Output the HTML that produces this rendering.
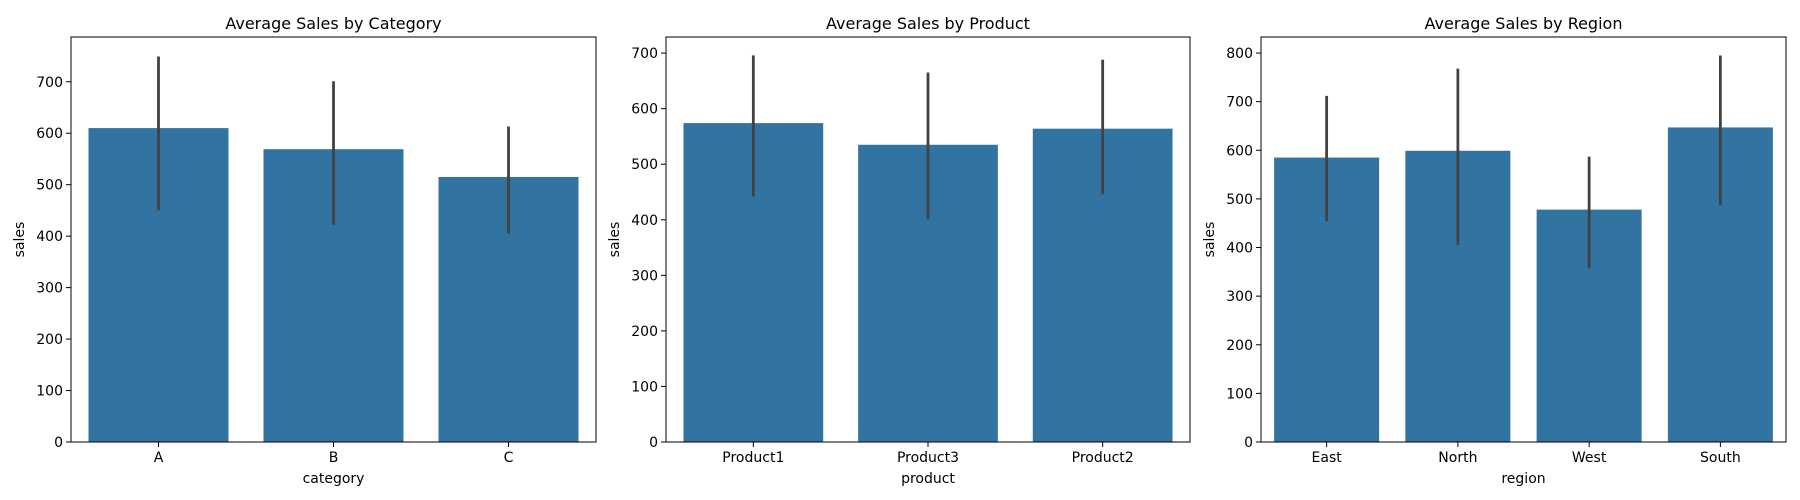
<!DOCTYPE html>
<html><head><meta charset="utf-8"><style>
html,body{margin:0;padding:0;background:#fff}
svg{display:block;font-family:"DejaVu Sans","Liberation Sans",sans-serif}
</style></head><body>
<svg id="fig" width="1800" height="500" viewBox="0 0 1800 500"></svg>
<script>
const catLabels=["A","B","C"];
const catMeans=[610,569,515];
const catLo=[450,422,405];
const catHi=[749,701,613];
const catTicks=[0,100,200,300,400,500,600,700];

const prodLabels=["Product1","Product3","Product2"];
const prodMeans=[574,535,564];
const prodLo=[442,401,446];
const prodHi=[696,665,688];
const prodTicks=[0,100,200,300,400,500,600,700];

const regLabels=["East","North","West","South"];
const regMeans=[585,599,478,647];
const regLo=[454,405,357,487];
const regHi=[712,768,587,795];
const regTicks=[0,100,200,300,400,500,600,700,800];

const NS="http://www.w3.org/2000/svg";
const svg=document.getElementById('fig');
function mk(tag,attrs,parent){const e=document.createElementNS(NS,tag);for(const k in attrs)e.setAttribute(k,attrs[k]);(parent||svg).appendChild(e);return e;}

function panel(key,x0,x1,ymax,title,xlab,labels,means,lo,hi,ticks){
  const top=37,bot=442;
  const g=mk('g',{});
  
  
  const yS=v=>bot-(v/ymax)*(bot-top);
  const band=(x1-x0)/labels.length;
  const xS=i=>x0+band*(i+0.5);
  labels.forEach((l,i)=>{
    const r=mk('rect',{x:xS(i)-band*0.4,y:yS(means[i]),width:band*0.8,height:bot-yS(means[i]),fill:'#3274a1'},g);
    
    
    const e=mk('line',{x1:xS(i),x2:xS(i),y1:yS(lo[i]),y2:yS(hi[i]),stroke:'#424242','stroke-width':2.8},g);
    
    
    mk('line',{x1:xS(i),x2:xS(i),y1:bot,y2:bot+5,stroke:'#000','stroke-width':1},g);
    const t=mk('text',{x:xS(i),y:462,'text-anchor':'middle','font-size':14,fill:'#000'},g);
    t.textContent=l;
    
    
  });
  ticks.forEach(v=>{
    mk('line',{x1:x0-5,x2:x0,y1:yS(v),y2:yS(v),stroke:'#000','stroke-width':1},g);
    const t=mk('text',{x:x0-8,y:yS(v)+5,'text-anchor':'end','font-size':14,fill:'#000'},g);
    t.textContent=v;
    
    
  });
  const fr=mk('rect',{x:x0,y:top,width:x1-x0,height:bot-top,fill:'none',stroke:'#000','stroke-width':1},g);
  
  
  const tt=mk('text',{x:(x0+x1)/2,y:29,'text-anchor':'middle','font-size':16,fill:'#000'},g);
  tt.textContent=title;
  
  
  const xl=mk('text',{x:(x0+x1)/2,y:483,'text-anchor':'middle','font-size':14,fill:'#000'},g);
  xl.textContent=xlab;
  
  
  const yl=mk('text',{x:0,y:0,'text-anchor':'middle','font-size':14,fill:'#000',transform:`translate(${x0-47},${(top+bot)/2}) rotate(-90)`},g);
  yl.textContent='sales';
  
  
}
panel('category',71,596,787,'Average Sales by Category','category',catLabels,catMeans,catLo,catHi,catTicks);
panel('product',666,1190,729,'Average Sales by Product','product',prodLabels,prodMeans,prodLo,prodHi,prodTicks);
panel('region',1261,1786,833,'Average Sales by Region','region',regLabels,regMeans,regLo,regHi,regTicks);
</script>
</body></html>
